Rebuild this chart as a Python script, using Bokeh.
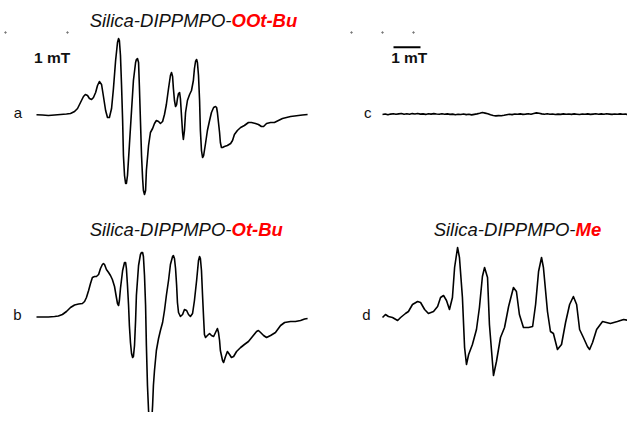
from bokeh.plotting import figure
from bokeh.models import Range1d, Label
from bokeh.layouts import gridplot
from bokeh.embed import file_html
from bokeh.resources import INLINE

# ---------------- data (field in mT, intensity in a.u.) ----------------
# a: Silica-DIPPMPO-OOt-Bu
field_a = [0.00, 0.22, 0.44, 0.67, 0.89, 1.11, 1.26, 1.41, 1.52, 1.63, 1.74, 1.81, 1.89, 1.96,
           2.04, 2.11, 2.19, 2.26, 2.33, 2.41, 2.48, 2.56, 2.63, 2.70, 2.78, 2.85, 2.93, 3.00,
           3.04, 3.07, 3.11, 3.15, 3.19, 3.22, 3.26, 3.30, 3.33, 3.37, 3.44, 3.52, 3.59, 3.67,
           3.70, 3.74, 3.78, 3.81, 3.85, 3.89, 3.93, 3.96, 4.00, 4.04, 4.07, 4.15, 4.22, 4.30,
           4.37, 4.44, 4.52, 4.59, 4.67, 4.74, 4.81, 4.89, 4.96, 5.00, 5.04, 5.07, 5.11, 5.15,
           5.19, 5.22, 5.26, 5.30, 5.33, 5.37, 5.41, 5.44, 5.48, 5.52, 5.59, 5.67, 5.74, 5.81,
           5.85, 5.89, 5.93, 5.96, 6.00, 6.04, 6.07, 6.11, 6.15, 6.19, 6.26, 6.33, 6.41, 6.48,
           6.56, 6.63, 6.67, 6.70, 6.74, 6.78, 6.81, 6.85, 6.89, 6.96, 7.07, 7.19, 7.26, 7.33,
           7.44, 7.56, 7.70, 7.85, 7.96, 8.11, 8.22, 8.33, 8.41, 8.52, 8.67, 8.81, 8.96, 9.11,
           9.26, 9.41, 9.56, 9.70, 9.85, 10.04]
int_a = [-0.3, -0.5, -1, -0.5, 0, 0.5, 1, 3, 6, 12, 18, 20, 19, 16,
         15, 17, 22, 29, 33, 30, 18, 4, -3, -3, 6, 26, 54, 72,
         76, 74, 59, 29, -6, -41, -61, -69, -69, -61, -31, 4, 34, 52,
         55, 56, 52, 29, -6, -41, -64, -76, -80, -76, -56, -31, -18, -14,
         -9, -6, -7, -9, -7, 0, 10, 26, 39, 42, 38, 26, 14, 8,
         10, 16, 21, 22, 16, -1, -18, -25, -16, 2, 14, 20, 24, 34,
         46, 53, 55, 52, 39, 14, -16, -36, -43, -41, -29, -16, -6, 2,
         7, 8, 7, 2, -8, -18, -28, -33, -33, -32, -31, -29, -26, -20,
         -16, -13, -11, -8, -8, -9, -10, -12, -12, -9, -8, -8, -6, -4,
         -3, -2, -1.5, -1, -0.5, 0]

# b: Silica-DIPPMPO-Ot-Bu
field_b = [0.00, 0.22, 0.44, 0.67, 0.81, 0.96, 1.11, 1.26, 1.41, 1.56, 1.70, 1.78, 1.85, 1.93,
           2.00, 2.07, 2.15, 2.22, 2.30, 2.37, 2.44, 2.48, 2.52, 2.59, 2.67, 2.74, 2.81, 2.89,
           2.96, 3.00, 3.04, 3.07, 3.11, 3.19, 3.26, 3.30, 3.33, 3.37, 3.41, 3.44, 3.48, 3.52,
           3.56, 3.59, 3.63, 3.67, 3.70, 3.78, 3.85, 3.89, 3.93, 3.96, 4.00, 4.04, 4.07, 4.11,
           4.15, 4.19, 4.22, 4.26, 4.30, 4.33, 4.37, 4.44, 4.52, 4.59, 4.67, 4.74, 4.81, 4.89,
           4.96, 5.04, 5.07, 5.11, 5.15, 5.19, 5.22, 5.26, 5.33, 5.41, 5.48, 5.56, 5.63, 5.70,
           5.78, 5.85, 5.93, 6.00, 6.04, 6.07, 6.11, 6.15, 6.19, 6.22, 6.26, 6.33, 6.41, 6.48,
           6.56, 6.63, 6.70, 6.74, 6.78, 6.81, 6.89, 6.93, 7.00, 7.07, 7.15, 7.22, 7.30, 7.41,
           7.56, 7.70, 7.85, 8.00, 8.15, 8.22, 8.30, 8.41, 8.52, 8.67, 8.85, 9.04, 9.19, 9.41,
           9.59, 9.78, 9.93, 10.04]
int_b = [-0.5, -0.5, -0.5, 0, 0.5, 2, 5, 9, 11.5, 12.5, 13, 15, 19, 26,
         33, 39, 40, 40, 42, 48, 52, 53, 52, 47, 44, 41, 37, 30,
         19, 13, 11, 16, 28, 46, 54, 54, 48, 31, 11, -9, -26, -37,
         -41, -40, -29, -4, 21, 51, 62, 64, 64, 60, 41, 11, -29, -69,
         -94, -107, -112, -108, -89, -69, -54, -34, -22, -14, -6, 6, 21, 36,
         52, 60, 61, 58, 48, 31, 14, 4, 0, 2, 7, 6, 2, 0,
         3, 16, 36, 56, 60, 58, 46, 21, -2, -18, -21, -19, -17, -19,
         -20, -16, -12, -16, -24, -34, -44, -46, -40, -35, -38, -41, -40, -35,
         -31, -28, -25, -20, -15, -14, -16, -19, -21, -19, -16, -9, -6, -5,
         -5, -4, -2.5, -2]

# c: no signal
field_c = [0.0, 0.1, 0.2, 0.3, 0.4, 0.5, 0.6, 0.7, 0.8, 0.9,
           1.0, 1.1, 1.2, 1.3, 1.4, 1.5, 1.6, 1.7, 1.8, 1.9,
           2.0, 2.1, 2.2, 2.3, 2.4, 2.5, 2.6, 2.7, 2.8, 2.9,
           3.0, 3.1, 3.2, 3.3, 3.4, 3.5, 3.6, 3.7, 3.8, 3.9,
           4.0, 4.1, 4.2, 4.3, 4.4, 4.5, 4.6, 4.7, 4.8, 4.9,
           5.0, 5.1, 5.2, 5.3, 5.4, 5.5, 5.6, 5.7, 5.8, 5.9,
           6.0, 6.1, 6.2, 6.3, 6.4, 6.5, 6.6, 6.7, 6.8, 6.9,
           7.0, 7.1, 7.2, 7.3, 7.4, 7.5, 7.6, 7.7, 7.8, 7.9,
           8.0, 8.1, 8.2, 8.3, 8.4, 8.5, 8.6, 8.7, 8.8, 8.9,
           9.0, 9.1, 9.2, 9.3, 9.4, 9.5, 9.6]
int_c = [0, 0.5, -0.3, 0.4, 0.8, 0.2, 0.6, 1.0, 0.3, 0.7,
         0.2, 0.9, 0.5, 1.0, 0.4, 0.6, 0.1, 0.8, 0.4, 0.9,
         0.5, 0.2, 0.7, 0.3, 0.6, 0.1, 0.4, -0.2, 0.3, 0.0,
         0.5, -0.1, 0.2, -0.4, 0.1, 0.6, 1.2, 2.0, 1.4, 0.8,
         -0.3, -1.0, -1.4, -1.1, -1.3, -0.8, -0.2, 0.3, -0.1, 0.5,
         0.2, 0.6, 0.1, 0.4, 0.8, 0.3, 1.0, 1.6, 1.2, 0.6,
         0.3, 0.7, 0.2, 0.5, 0.0, 0.4, 0.1, 0.6, 0.2, 0.5,
         0.1, 0.6, 0.3, 0.0, 0.5, 0.2, 0.6, 0.1, 0.4, 0.7,
         0.3, 0.6, 0.2, 0.7, 0.4, 0.1, 0.5, 0.3, 0.6, 0.2,
         0.4, 0.0, 0.3, -0.2, 0.2, -0.3, 0.0]

# d: Silica-DIPPMPO-Me
field_d = [0.00, 0.11, 0.22, 0.37, 0.56, 0.67, 0.85, 0.96, 1.11, 1.30, 1.41, 1.56, 1.70, 1.89,
           2.04, 2.15, 2.26, 2.37, 2.48, 2.59, 2.67, 2.78, 2.85, 2.96, 3.04, 3.11, 3.19, 3.33,
           3.48, 3.59, 3.70, 3.78, 3.89, 3.96, 4.07, 4.11, 4.22, 4.37, 4.52, 4.67, 4.85, 4.96,
           5.07, 5.22, 5.41, 5.56, 5.67, 5.78, 5.89, 5.96, 6.11, 6.22, 6.33, 6.48, 6.63, 6.78,
           6.93, 7.07, 7.19, 7.30, 7.44, 7.59, 7.67, 7.78, 7.93, 8.15, 8.44, 8.70, 8.93, 9.30,
           9.63]
int_d = [-1, 2, 0, -1, -4, -1, 3, 5, 12, 15, 14, 7, 3, 5,
         10, 19, 21, 16, 7, 19, 49, 69, 59, 19, -31, -48, -38, -28,
         -13, 9, 40, 49, 39, -8, -45, -59, -45, -21, -11, 10, 29, 25,
         2, -11, -11, -10, 12, 45, 59, 49, 5, -15, -17, -33, -28, -6,
         12, 20, 12, -13, -21, -30, -33, -26, -13, -5, -7, -5, -3, -5,
         -5]

titles = ["Silica-DIPPMPO-", "Silica-DIPPMPO-", "Silica-DIPPMPO-"]
title_tags = ["OOt-Bu", "Ot-Bu", "Me"]
panel_letters = ["a", "b", "c", "d"]
scale_text = "1 mT"
scale_bar_field = [0.407, 1.407]
dot_field_a = [-1.148, 1.148]
dot_field_c = [-1.148, 0.0, 1.148]

FONT = "Liberation Sans"


def panel(w, h, xr, yr):
    p = figure(width=w, height=h, x_range=Range1d(*xr), y_range=Range1d(*yr),
               output_backend="svg", toolbar_location=None, min_border=0,
               x_axis_location=None, y_axis_location=None)
    p.grid.visible = False
    p.outline_line_color = None
    p.background_fill_color = "white"
    p.border_fill_color = "white"
    return p


XL = (-1.333, 10.259)
XR = (-2.556, 9.074)
YT = (-91, 114)
YB = (-96, 111)

pa = panel(313, 205, XL, YT)
pc = panel(314, 205, XR, YT)
pb = panel(313, 207, XL, YB)
pd = panel(314, 207, XR, YB)

for p, fx, iy in ((pa, field_a, int_a), (pb, field_b, int_b),
                  (pc, field_c, int_c), (pd, field_d, int_d)):
    p.line(fx, iy, line_color="black", line_width=1.6, line_join="round")


def letter(p, x, y, t):
    p.add_layout(Label(x=x, y=y, text=t, text_font=FONT, text_font_size="15px",
                       text_align="center", text_baseline="alphabetic",
                       text_color="#111111"))


letter(pa, -0.69, 2.0, panel_letters[0])
letter(pb, -0.71, 2.0, panel_letters[1])
letter(pc, -0.55, 2.2, panel_letters[2])
letter(pd, -0.60, 2.0, panel_letters[3])


def title(p, xsplit, y, black, red):
    p.add_layout(Label(x=xsplit, y=y, text=black, text_font=FONT, text_font_size="18.5px",
                       text_font_style="italic", text_align="right",
                       text_baseline="alphabetic", text_color="#111111"))
    p.add_layout(Label(x=xsplit, y=y, text=red, text_font=FONT, text_font_size="18.5px",
                       text_font_style="bold italic", text_align="left",
                       text_baseline="alphabetic", text_color="#ff0000"))


title(pa, 7.222, 94.0, titles[0], title_tags[0])
title(pb, 7.222, 87.5, titles[1], title_tags[1])
title(pd, 7.148, 87.5, titles[2], title_tags[2])

for p, x in ((pa, -0.093), (pc, 0.32)):
    p.add_layout(Label(x=x, y=57.5, text=scale_text, text_font=FONT, text_font_size="15.5px",
                       text_font_style="bold", text_align="left",
                       text_baseline="alphabetic", text_color="#111111"))

pc.line(scale_bar_field, [67.3, 67.3], line_color="black", line_width=2)

pa.scatter(dot_field_a, [82] * len(dot_field_a), size=1.5, color="#777777")
pc.scatter(dot_field_c, [82] * len(dot_field_c), size=1.5, color="#777777")

grid = gridplot([[pa, pc], [pb, pd]], toolbar_location=None)

open("out.html", "w").write(file_html(grid, INLINE))
